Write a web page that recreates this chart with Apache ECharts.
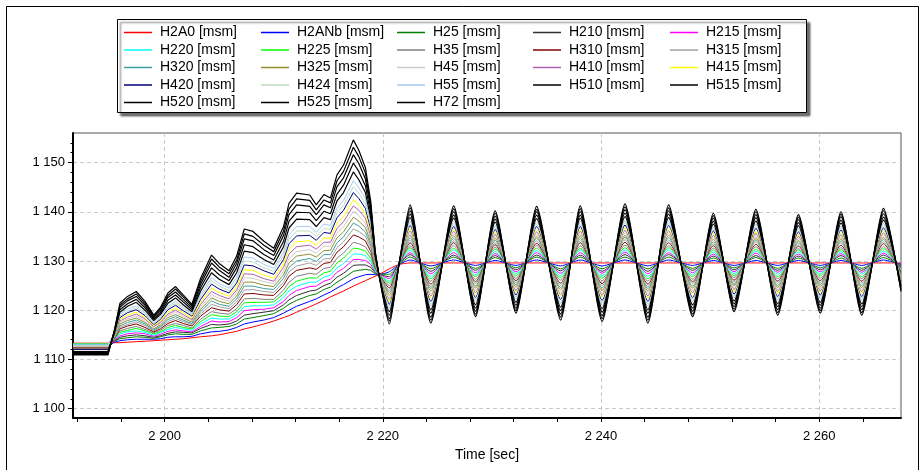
<!DOCTYPE html>
<html>
<head>
<meta charset="utf-8">
<script src="https://cdn.jsdelivr.net/npm/echarts@6/dist/echarts.min.js"></script>
<style>
html, body { margin: 0; padding: 0; background: #fff; }
#chart { width: 921px; height: 470px; }
</style>
</head>
<body>
<div id="chart"></div>
<script>
// time axis of all series [sec]
const times = [2191.6, 2194.8,
  2195.4, 2195.9, 2196.6, 2197.4, 2198.2, 2199.0, 2199.6, 2200.3, 2201.0, 2201.7,
  2202.5, 2203.3, 2204.3, 2205.0, 2205.9, 2206.6, 2207.3, 2208.1, 2209.1, 2210.0,
  2210.9, 2211.4, 2212.1, 2213.3, 2213.9, 2214.6, 2215.2, 2215.8, 2216.4, 2217.3,
  2217.8, 2218.4, 2218.9, 2219.3, 2219.6,
  2220.6, 2221.5, 2222.5, 2224.4, 2226.5, 2228.5, 2230.3, 2232.2, 2234.1, 2236.3,
  2238.1, 2240.1, 2242.2, 2244.3, 2246.2, 2248.4, 2250.3, 2252.2, 2254.2, 2256.2,
  2258.1, 2260.1, 2262.0, 2263.9, 2265.9, 2267.5];
// index of the last point before the oscillating part (2219.6 s)
const SPLIT = 36;

// values [msm]
const h2a0 = [1113.3, 1113.3, 1113.4, 1113.4, 1113.5, 1113.6, 1113.7, 1113.8, 1113.9, 1114.0, 1114.1, 1114.2, 1114.4, 1114.6, 1114.8, 1115.0, 1115.4, 1115.7, 1116.2, 1116.6, 1117.2, 1117.8, 1118.5, 1118.9, 1119.6, 1120.7, 1121.3, 1122.0, 1122.7, 1123.3, 1123.9, 1124.9, 1125.4, 1126.0, 1126.5, 1126.9, 1127.2,
  1128.4, 1129.3, 1129.6, 1129.6, 1129.6, 1129.6, 1129.6, 1129.6, 1129.6, 1129.6, 1129.6, 1129.6, 1129.6, 1129.6, 1129.6, 1129.6, 1129.6, 1129.6, 1129.6, 1129.6, 1129.6, 1129.6, 1129.6, 1129.6, 1129.6, 1129.6];
const h2anb = [1112.8, 1112.8, 1113.5, 1113.8, 1114.0, 1114.1, 1114.1, 1114.1, 1114.2, 1114.5, 1114.6, 1114.6, 1114.7, 1115.2, 1115.6, 1115.7, 1116.0, 1116.5, 1117.2, 1117.6, 1118.0, 1118.5, 1119.4, 1120.0, 1120.8, 1121.8, 1122.3, 1123.1, 1123.7, 1124.5, 1125.2, 1126.4, 1126.8, 1127.2, 1127.3, 1127.2, 1127.2,
  1127.8, 1129.3, 1130.2, 1129.0, 1130.2, 1129.1, 1130.1, 1129.1, 1130.2, 1129.0, 1130.2, 1129.0, 1130.2, 1129.0, 1130.2, 1129.1, 1130.1, 1129.1, 1130.1, 1129.1, 1130.1, 1129.1, 1130.1, 1129.1, 1130.2, 1129.3];
const h25 = [1112.9, 1112.9, 1113.7, 1114.2, 1114.4, 1114.6, 1114.5, 1114.3, 1114.6, 1115.0, 1115.2, 1115.1, 1115.1, 1115.8, 1116.4, 1116.5, 1116.7, 1117.2, 1118.2, 1118.5, 1118.9, 1119.3, 1120.4, 1121.2, 1122.0, 1123.0, 1123.3, 1124.2, 1124.7, 1125.7, 1126.5, 1127.9, 1128.1, 1128.3, 1128.1, 1127.4, 1127.3,
  1127.3, 1129.3, 1130.8, 1128.4, 1130.8, 1128.5, 1130.7, 1128.6, 1130.8, 1128.4, 1130.8, 1128.4, 1130.8, 1128.4, 1130.8, 1128.5, 1130.6, 1128.6, 1130.7, 1128.5, 1130.6, 1128.6, 1130.6, 1128.5, 1130.7, 1129.0];
const h210 = [1112.2, 1112.2, 1113.8, 1114.5, 1114.8, 1115.0, 1114.8, 1114.5, 1114.8, 1115.3, 1115.6, 1115.5, 1115.4, 1116.3, 1117.1, 1117.0, 1117.2, 1117.8, 1119.0, 1119.3, 1119.6, 1119.9, 1121.1, 1122.1, 1123.0, 1123.9, 1124.1, 1125.0, 1125.5, 1126.7, 1127.5, 1129.1, 1129.2, 1129.2, 1128.7, 1127.6, 1127.3,
  1126.8, 1129.4, 1131.3, 1127.9, 1131.2, 1128.1, 1131.1, 1128.2, 1131.2, 1128.0, 1131.2, 1127.9, 1131.3, 1127.9, 1131.3, 1128.1, 1131.0, 1128.2, 1131.1, 1128.1, 1131.0, 1128.2, 1131.1, 1128.1, 1131.2, 1128.8];
const h215 = [1112.6, 1112.6, 1113.9, 1114.8, 1115.2, 1115.4, 1115.2, 1114.7, 1115.1, 1115.7, 1116.0, 1115.8, 1115.6, 1116.7, 1117.8, 1117.6, 1117.7, 1118.5, 1119.9, 1120.1, 1120.2, 1120.5, 1121.8, 1123.0, 1124.0, 1124.8, 1124.9, 1125.9, 1126.3, 1127.7, 1128.5, 1130.3, 1130.3, 1130.1, 1129.3, 1127.8, 1127.3,
  1126.4, 1129.4, 1131.7, 1127.4, 1131.7, 1127.6, 1131.5, 1127.8, 1131.7, 1127.5, 1131.7, 1127.5, 1131.8, 1127.4, 1131.7, 1127.6, 1131.4, 1127.8, 1131.6, 1127.7, 1131.4, 1127.8, 1131.5, 1127.7, 1131.6, 1128.6];
const h220 = [1113.0, 1113.0, 1114.0, 1115.2, 1115.6, 1115.8, 1115.5, 1114.9, 1115.4, 1116.1, 1116.5, 1116.2, 1115.9, 1117.2, 1118.4, 1118.2, 1118.2, 1119.1, 1120.7, 1120.9, 1120.9, 1121.1, 1122.6, 1123.9, 1124.9, 1125.7, 1125.7, 1126.7, 1127.1, 1128.6, 1129.5, 1131.4, 1131.4, 1131.1, 1129.9, 1128.0, 1127.3,
  1125.9, 1129.4, 1132.2, 1126.9, 1132.2, 1127.2, 1131.9, 1127.4, 1132.1, 1127.1, 1132.2, 1127.0, 1132.2, 1126.9, 1132.2, 1127.2, 1131.8, 1127.4, 1132.0, 1127.3, 1131.8, 1127.4, 1131.9, 1127.3, 1132.0, 1128.3];
const h225 = [1113.2, 1113.2, 1114.1, 1115.5, 1115.9, 1116.3, 1115.8, 1115.2, 1115.6, 1116.5, 1116.9, 1116.5, 1116.2, 1117.7, 1119.1, 1118.8, 1118.7, 1119.7, 1121.5, 1121.6, 1121.6, 1121.7, 1123.3, 1124.8, 1125.9, 1126.6, 1126.5, 1127.6, 1127.9, 1129.6, 1130.6, 1132.6, 1132.5, 1132.0, 1130.5, 1128.2, 1127.4,
  1125.5, 1129.4, 1132.7, 1126.4, 1132.6, 1126.8, 1132.4, 1127.0, 1132.6, 1126.6, 1132.6, 1126.5, 1132.7, 1126.4, 1132.7, 1126.8, 1132.2, 1127.0, 1132.4, 1126.8, 1132.2, 1127.0, 1132.3, 1126.8, 1132.5, 1128.1];
const h35 = [1112.5, 1112.5, 1114.2, 1115.8, 1116.3, 1116.7, 1116.1, 1115.4, 1115.9, 1116.9, 1117.3, 1116.9, 1116.4, 1118.2, 1119.7, 1119.4, 1119.2, 1120.3, 1122.3, 1122.4, 1122.2, 1122.2, 1124.1, 1125.7, 1126.9, 1127.5, 1127.3, 1128.5, 1128.7, 1130.6, 1131.6, 1133.8, 1133.5, 1132.9, 1131.2, 1128.4, 1127.4,
  1125.0, 1129.4, 1133.1, 1125.9, 1133.1, 1126.3, 1132.8, 1126.5, 1133.1, 1126.1, 1133.1, 1126.0, 1133.2, 1125.9, 1133.1, 1126.3, 1132.6, 1126.6, 1132.9, 1126.4, 1132.5, 1126.5, 1132.7, 1126.4, 1132.9, 1127.9];
const h310 = [1112.4, 1112.4, 1114.3, 1116.2, 1116.8, 1117.2, 1116.5, 1115.6, 1116.2, 1117.3, 1117.9, 1117.3, 1116.8, 1118.8, 1120.5, 1120.1, 1119.8, 1121.1, 1123.3, 1123.4, 1123.1, 1123.0, 1125.0, 1126.9, 1128.1, 1128.6, 1128.3, 1129.5, 1129.7, 1131.8, 1132.9, 1135.3, 1134.9, 1134.1, 1131.9, 1128.7, 1127.4,
  1124.5, 1129.4, 1133.7, 1125.3, 1133.7, 1125.8, 1133.3, 1126.0, 1133.6, 1125.5, 1133.7, 1125.4, 1133.8, 1125.3, 1133.7, 1125.8, 1133.1, 1126.1, 1133.4, 1125.9, 1133.0, 1126.0, 1133.2, 1125.9, 1133.5, 1127.6];
const h315 = [1112.7, 1112.7, 1114.4, 1116.5, 1117.1, 1117.6, 1116.9, 1115.8, 1116.5, 1117.7, 1118.3, 1117.7, 1117.1, 1119.2, 1121.2, 1120.7, 1120.3, 1121.7, 1124.1, 1124.2, 1123.8, 1123.6, 1125.7, 1127.8, 1129.0, 1129.6, 1129.1, 1130.4, 1130.5, 1132.7, 1133.9, 1136.5, 1136.0, 1135.0, 1132.6, 1128.9, 1127.4,
  1124.0, 1129.4, 1134.2, 1124.8, 1134.1, 1125.4, 1133.7, 1125.6, 1134.1, 1125.1, 1134.1, 1125.0, 1134.3, 1124.8, 1134.2, 1125.4, 1133.5, 1125.7, 1133.9, 1125.5, 1133.4, 1125.6, 1133.7, 1125.5, 1133.9, 1127.3];
const h320 = [1112.9, 1112.9, 1114.5, 1116.8, 1117.5, 1118.0, 1117.2, 1116.0, 1116.7, 1118.1, 1118.7, 1118.0, 1117.3, 1119.7, 1121.9, 1121.2, 1120.8, 1122.3, 1124.9, 1124.9, 1124.4, 1124.2, 1126.5, 1128.7, 1130.0, 1130.5, 1129.9, 1131.3, 1131.3, 1133.7, 1134.9, 1137.7, 1137.1, 1135.9, 1133.2, 1129.1, 1127.5,
  1123.6, 1129.4, 1134.7, 1124.4, 1134.6, 1124.9, 1134.2, 1125.2, 1134.6, 1124.6, 1134.6, 1124.5, 1134.8, 1124.4, 1134.7, 1124.9, 1133.9, 1125.3, 1134.3, 1125.0, 1133.8, 1125.2, 1134.1, 1125.0, 1134.4, 1127.1];
const h325 = [1112.3, 1112.3, 1114.6, 1117.2, 1117.9, 1118.4, 1117.5, 1116.2, 1117.0, 1118.5, 1119.1, 1118.4, 1117.6, 1120.2, 1122.5, 1121.8, 1121.3, 1122.9, 1125.7, 1125.7, 1125.1, 1124.8, 1127.2, 1129.6, 1131.0, 1131.4, 1130.8, 1132.1, 1132.2, 1134.7, 1135.9, 1138.9, 1138.1, 1136.8, 1133.8, 1129.3, 1127.5,
  1123.1, 1129.5, 1135.2, 1123.9, 1135.1, 1124.5, 1134.6, 1124.8, 1135.0, 1124.2, 1135.1, 1124.0, 1135.2, 1123.9, 1135.2, 1124.5, 1134.4, 1125.0, 1134.7, 1124.6, 1134.2, 1124.8, 1134.5, 1124.6, 1134.8, 1126.9];
const h45 = [1112.6, 1112.6, 1114.7, 1117.5, 1118.2, 1118.8, 1117.8, 1116.5, 1117.3, 1118.9, 1119.6, 1118.7, 1117.9, 1120.7, 1123.2, 1122.4, 1121.8, 1123.5, 1126.6, 1126.5, 1125.8, 1125.4, 1127.9, 1130.5, 1131.9, 1132.3, 1131.6, 1133.0, 1133.0, 1135.6, 1137.0, 1140.1, 1139.2, 1137.7, 1134.4, 1129.5, 1127.5,
  1122.7, 1129.5, 1135.6, 1123.4, 1135.5, 1124.0, 1135.0, 1124.4, 1135.5, 1123.7, 1135.5, 1123.5, 1135.7, 1123.4, 1135.6, 1124.0, 1134.8, 1124.6, 1135.2, 1124.2, 1134.6, 1124.4, 1134.9, 1124.2, 1135.3, 1126.6];
const h410 = [1112.1, 1112.1, 1114.8, 1117.8, 1118.6, 1119.2, 1118.2, 1116.7, 1117.5, 1119.2, 1120.0, 1119.1, 1118.1, 1121.2, 1123.8, 1123.0, 1122.3, 1124.1, 1127.4, 1127.3, 1126.4, 1125.9, 1128.7, 1131.4, 1132.9, 1133.2, 1132.4, 1133.8, 1133.8, 1136.6, 1138.0, 1141.2, 1140.3, 1138.7, 1135.0, 1129.7, 1127.5,
  1122.2, 1129.5, 1136.1, 1122.9, 1136.0, 1123.6, 1135.4, 1124.0, 1135.9, 1123.2, 1136.0, 1123.1, 1136.2, 1122.9, 1136.1, 1123.6, 1135.2, 1124.2, 1135.6, 1123.8, 1135.0, 1124.0, 1135.3, 1123.8, 1135.7, 1126.4];
const h415 = [1112.0, 1112.0, 1114.9, 1118.1, 1119.0, 1119.6, 1118.5, 1116.9, 1117.8, 1119.6, 1120.4, 1119.5, 1118.4, 1121.6, 1124.5, 1123.6, 1122.8, 1124.7, 1128.2, 1128.1, 1127.1, 1126.5, 1129.4, 1132.4, 1133.9, 1134.1, 1133.2, 1134.7, 1134.6, 1137.6, 1139.0, 1142.4, 1141.4, 1139.6, 1135.7, 1129.9, 1127.6,
  1121.8, 1129.5, 1136.6, 1122.4, 1136.4, 1123.2, 1135.9, 1123.6, 1136.4, 1122.8, 1136.4, 1122.6, 1136.7, 1122.4, 1136.6, 1123.2, 1135.6, 1123.8, 1136.0, 1123.4, 1135.4, 1123.6, 1135.7, 1123.4, 1136.2, 1126.2];
const h420 = [1112.0, 1112.0, 1115.1, 1118.5, 1119.5, 1120.1, 1118.9, 1117.1, 1118.1, 1120.1, 1121.0, 1119.9, 1118.8, 1122.2, 1125.3, 1124.3, 1123.5, 1125.5, 1129.2, 1129.0, 1128.0, 1127.3, 1130.3, 1133.5, 1135.1, 1135.2, 1134.2, 1135.8, 1135.6, 1138.8, 1140.3, 1143.9, 1142.7, 1140.7, 1136.4, 1130.2, 1127.6,
  1121.2, 1129.5, 1137.2, 1121.8, 1137.0, 1122.6, 1136.4, 1123.1, 1137.0, 1122.2, 1137.0, 1122.0, 1137.3, 1121.8, 1137.2, 1122.6, 1136.1, 1123.3, 1136.6, 1122.8, 1135.9, 1123.1, 1136.3, 1122.8, 1136.7, 1125.9];
const h424 = [1112.8, 1112.8, 1115.2, 1118.8, 1119.8, 1120.5, 1119.2, 1117.3, 1118.4, 1120.5, 1121.4, 1120.3, 1119.0, 1122.7, 1126.0, 1124.9, 1124.0, 1126.1, 1130.0, 1129.8, 1128.6, 1127.9, 1131.1, 1134.4, 1136.1, 1136.1, 1135.0, 1136.6, 1136.4, 1139.8, 1141.3, 1145.1, 1143.8, 1141.6, 1137.0, 1130.4, 1127.6,
  1120.8, 1129.5, 1137.6, 1121.3, 1137.5, 1122.2, 1136.8, 1122.7, 1137.4, 1121.7, 1137.5, 1121.5, 1137.8, 1121.3, 1137.6, 1122.2, 1136.5, 1122.9, 1137.0, 1122.4, 1136.3, 1122.7, 1136.7, 1122.4, 1137.2, 1125.7];
const h55 = [1113.1, 1113.1, 1115.3, 1119.2, 1120.2, 1120.9, 1119.5, 1117.5, 1118.7, 1120.8, 1121.8, 1120.6, 1119.3, 1123.2, 1126.6, 1125.4, 1124.5, 1126.7, 1130.8, 1130.6, 1129.3, 1128.5, 1131.8, 1135.3, 1137.0, 1137.0, 1135.8, 1137.5, 1137.2, 1140.7, 1142.3, 1146.3, 1144.9, 1142.6, 1137.7, 1130.6, 1127.6,
  1120.3, 1129.5, 1138.1, 1120.8, 1138.0, 1121.8, 1137.2, 1122.3, 1137.9, 1121.3, 1138.0, 1121.0, 1138.2, 1120.8, 1138.1, 1121.8, 1136.9, 1122.5, 1137.5, 1122.0, 1136.7, 1122.3, 1137.1, 1122.0, 1137.6, 1125.4];
const h510 = [1111.6, 1111.6, 1115.4, 1119.6, 1120.8, 1121.6, 1120.0, 1117.9, 1119.1, 1121.4, 1122.5, 1121.1, 1119.7, 1123.9, 1127.6, 1126.3, 1125.2, 1127.6, 1132.0, 1131.7, 1130.3, 1129.3, 1132.9, 1136.7, 1138.5, 1138.4, 1137.0, 1138.8, 1138.4, 1142.2, 1143.9, 1148.1, 1146.5, 1143.9, 1138.6, 1130.9, 1127.7,
  1119.7, 1129.5, 1138.8, 1120.1, 1138.7, 1121.1, 1137.9, 1121.6, 1138.6, 1120.6, 1138.7, 1120.3, 1139.0, 1120.1, 1138.8, 1121.1, 1137.5, 1121.9, 1138.1, 1121.3, 1137.2, 1121.6, 1137.7, 1121.3, 1138.3, 1125.1];
const h515 = [1111.4, 1111.4, 1115.6, 1120.1, 1121.3, 1122.2, 1120.5, 1118.2, 1119.4, 1122.0, 1123.1, 1121.7, 1120.1, 1124.6, 1128.6, 1127.2, 1126.0, 1128.6, 1133.3, 1132.9, 1131.3, 1130.2, 1134.0, 1138.1, 1139.9, 1139.8, 1138.2, 1140.1, 1139.6, 1143.6, 1145.4, 1149.9, 1148.2, 1145.3, 1139.5, 1131.2, 1127.7,
  1119.0, 1129.5, 1139.5, 1119.4, 1139.3, 1120.4, 1138.5, 1121.0, 1139.3, 1119.9, 1139.3, 1119.6, 1139.7, 1119.4, 1139.5, 1120.4, 1138.1, 1121.3, 1138.8, 1120.7, 1137.8, 1121.0, 1138.3, 1120.7, 1138.9, 1124.7];
const h520 = [1111.2, 1111.2, 1115.7, 1120.6, 1121.9, 1122.8, 1121.0, 1118.5, 1119.8, 1122.6, 1123.7, 1122.2, 1120.5, 1125.3, 1129.6, 1128.1, 1126.7, 1129.5, 1134.5, 1134.1, 1132.3, 1131.1, 1135.2, 1139.4, 1141.4, 1141.1, 1139.4, 1141.4, 1140.8, 1145.1, 1146.9, 1151.6, 1149.8, 1146.7, 1140.5, 1131.5, 1127.7,
  1118.3, 1129.5, 1140.2, 1118.6, 1140.0, 1119.8, 1139.1, 1120.4, 1140.0, 1119.2, 1140.0, 1118.9, 1140.4, 1118.6, 1140.2, 1119.8, 1138.7, 1120.7, 1139.4, 1120.1, 1138.4, 1120.4, 1139.0, 1120.1, 1139.6, 1124.4];
const h525 = [1111.0, 1111.0, 1115.9, 1121.0, 1122.3, 1123.3, 1121.4, 1118.7, 1120.2, 1123.0, 1124.3, 1122.7, 1120.9, 1125.9, 1130.4, 1128.8, 1127.4, 1130.2, 1135.5, 1135.0, 1133.2, 1131.9, 1136.1, 1140.6, 1142.6, 1142.3, 1140.4, 1142.4, 1141.8, 1146.3, 1148.2, 1153.1, 1151.2, 1147.9, 1141.2, 1131.8, 1127.8,
  1117.8, 1129.5, 1140.8, 1118.0, 1140.6, 1119.2, 1139.7, 1119.9, 1140.5, 1118.6, 1140.6, 1118.3, 1141.0, 1118.0, 1140.8, 1119.2, 1139.2, 1120.2, 1140.0, 1119.5, 1138.9, 1119.9, 1139.5, 1119.5, 1140.2, 1124.1];
const h72 = [1110.9, 1110.9, 1116.0, 1121.4, 1122.8, 1123.8, 1121.8, 1119.0, 1120.5, 1123.5, 1124.8, 1123.1, 1121.2, 1126.5, 1131.2, 1129.5, 1128.0, 1131.0, 1136.5, 1136.0, 1134.0, 1132.6, 1137.0, 1141.7, 1143.8, 1143.4, 1141.4, 1143.5, 1142.8, 1147.5, 1149.5, 1154.6, 1152.5, 1149.0, 1142.0, 1132.0, 1127.8,
  1117.2, 1129.6, 1141.4, 1117.4, 1141.2, 1118.7, 1140.2, 1119.4, 1141.1, 1118.0, 1141.2, 1117.7, 1141.6, 1117.4, 1141.4, 1118.7, 1139.7, 1119.7, 1140.5, 1119.0, 1139.4, 1119.4, 1140.0, 1119.0, 1140.7, 1123.8];

// drawing order, bottom to top
const seriesNames = ['H2A0 [msm]', 'H2ANb [msm]', 'H25 [msm]', 'H210 [msm]', 'H215 [msm]', 'H220 [msm]',
  'H225 [msm]', 'H35 [msm]', 'H310 [msm]', 'H315 [msm]', 'H320 [msm]', 'H325 [msm]', 'H45 [msm]',
  'H410 [msm]', 'H415 [msm]', 'H420 [msm]', 'H424 [msm]', 'H55 [msm]', 'H510 [msm]', 'H515 [msm]',
  'H520 [msm]', 'H525 [msm]', 'H72 [msm]'];
const seriesValues = [h2a0, h2anb, h25, h210, h215, h220, h225, h35, h310, h315, h320, h325, h45,
  h410, h415, h420, h424, h55, h510, h515, h520, h525, h72];
const seriesColors = ['#ff0000', '#0000ff', '#008000', '#303030', '#ff00ff', '#00ffff',
  '#00ff00', '#808080', '#800000', '#a0a0a0', '#40a0a0', '#909030', '#cccccc',
  '#b060b0', '#ffff00', '#000080', '#c0dcc0', '#a6caf0', '#000000', '#000000',
  '#000000', '#000000', '#000000'];

// legend columns (as in the box)
const legendColumns = [
  ['H2A0 [msm]', 'H220 [msm]', 'H320 [msm]', 'H420 [msm]', 'H520 [msm]'],
  ['H2ANb [msm]', 'H225 [msm]', 'H325 [msm]', 'H424 [msm]', 'H525 [msm]'],
  ['H25 [msm]', 'H35 [msm]', 'H45 [msm]', 'H55 [msm]', 'H72 [msm]'],
  ['H210 [msm]', 'H310 [msm]', 'H410 [msm]', 'H510 [msm]'],
  ['H215 [msm]', 'H315 [msm]', 'H415 [msm]', 'H515 [msm]']
];
const legendLeft = [124, 261, 397, 533, 670];

// ticks
const xLabels = [2200, 2220, 2240, 2260];
const xTicks = [2192, 2196, 2200, 2204, 2208, 2212, 2216, 2220, 2224, 2228, 2232, 2236,
  2240, 2244, 2248, 2252, 2256, 2260, 2264];
const yLabels = [1100, 1110, 1120, 1130, 1140, 1150];
const yTicks = [1100, 1102, 1104, 1106, 1108, 1110, 1112, 1114, 1116, 1118, 1120, 1122, 1124,
  1126, 1128, 1130, 1132, 1134, 1136, 1138, 1140, 1142, 1144, 1146, 1148, 1150, 1152, 1154];

const X_MIN = 2191.6, X_MAX = 2267.5, Y_MIN = 1098.1, Y_MAX = 1156;
const FONT = '"Liberation Sans", Arial, sans-serif';

function fmt(v) {
  const s = String(Math.round(v));
  return s.slice(0, s.length - 3) + ' ' + s.slice(-3);
}

const chart = echarts.init(document.getElementById('chart'));

const series = [];
seriesNames.forEach((name, i) => {
  const pts = seriesValues[i].map((v, j) => [times[j], v]);
  const base = {
    name: name, type: 'line', symbol: 'none', silent: true,
    color: seriesColors[i],
    lineStyle: { color: seriesColors[i], width: seriesColors[i] === '#000000' ? 1.2 : 1 }
  };
  // build-up part: straight segments
  series.push(Object.assign({}, base, { data: pts.slice(0, SPLIT + 1) }));
  // oscillating part: slightly rounded waves
  series.push(Object.assign({}, base, { smooth: 0.2, data: pts.slice(SPLIT) }));
});

chart.setOption({
  animation: false,
  backgroundColor: '#fff',
  textStyle: { fontFamily: FONT },
  graphic: [
    { type: 'rect', z: 0, shape: { x: 6.5, y: 6.5, width: 912, height: 475 },
      style: { fill: 'none', stroke: '#000', lineWidth: 1 } },
    { type: 'rect', z: 0, shape: { x: 117.5, y: 19.5, width: 689, height: 93 },
      style: { fill: '#fff', stroke: '#000', lineWidth: 1,
        shadowBlur: 2, shadowOffsetX: 3, shadowOffsetY: 3, shadowColor: 'rgba(0,0,0,0.55)' } }
  ],
  legend: legendColumns.map((col, i) => ({
    orient: 'vertical',
    left: legendLeft[i],
    top: 25.5,
    padding: 0,
    icon: 'rect',
    itemWidth: 28,
    itemHeight: 1.5,
    itemGap: 3.5,
    selectedMode: false,
    textStyle: { fontFamily: FONT, fontSize: 14, lineHeight: 14, color: '#000', padding: [0, 0, 0, 3] },
    data: col
  })),
  grid: {
    left: 73, right: 20, top: 133, bottom: 52,
    show: true, borderColor: '#555', borderWidth: 1
  },
  xAxis: [
    {
      type: 'value', min: X_MIN, max: X_MAX, splitNumber: 4,
      name: 'Time [sec]', nameLocation: 'middle', nameGap: 30,
      nameTextStyle: { fontFamily: FONT, fontSize: 14, color: '#000' },
      axisLine: { onZero: false, lineStyle: { color: '#000', width: 2 } },
      axisTick: { show: true, length: 4, customValues: xLabels, lineStyle: { color: '#000' } },
      axisLabel: { customValues: xLabels, formatter: fmt, margin: 12,
        fontFamily: FONT, fontSize: 13, color: '#000' },
      splitLine: { show: true, lineStyle: { color: '#c8c8c8', type: [4, 3] } }
    },
    {
      type: 'value', min: X_MIN, max: X_MAX, position: 'bottom', offset: 0,
      axisLine: { show: false },
      axisTick: { show: true, length: 4, customValues: xTicks, lineStyle: { color: '#000' } },
      axisLabel: { show: false },
      splitLine: { show: false }
    }
  ],
  yAxis: [
    {
      type: 'value', min: Y_MIN, max: Y_MAX, splitNumber: 5,
      axisLine: { show: true, onZero: false, lineStyle: { color: '#000', width: 2 } },
      axisTick: { show: true, length: 5, customValues: yLabels, lineStyle: { color: '#000' } },
      axisLabel: { customValues: yLabels, formatter: fmt, margin: 8,
        fontFamily: FONT, fontSize: 13, color: '#000' },
      splitLine: { show: true, lineStyle: { color: '#c8c8c8', type: [4, 3] } }
    },
    {
      type: 'value', min: Y_MIN, max: Y_MAX, position: 'left', offset: 0,
      axisLine: { show: false },
      axisTick: { show: true, length: 2.5, customValues: yTicks, lineStyle: { color: '#000' } },
      axisLabel: { show: false },
      splitLine: { show: false }
    }
  ],
  series: series
});
</script>
</body>
</html>
